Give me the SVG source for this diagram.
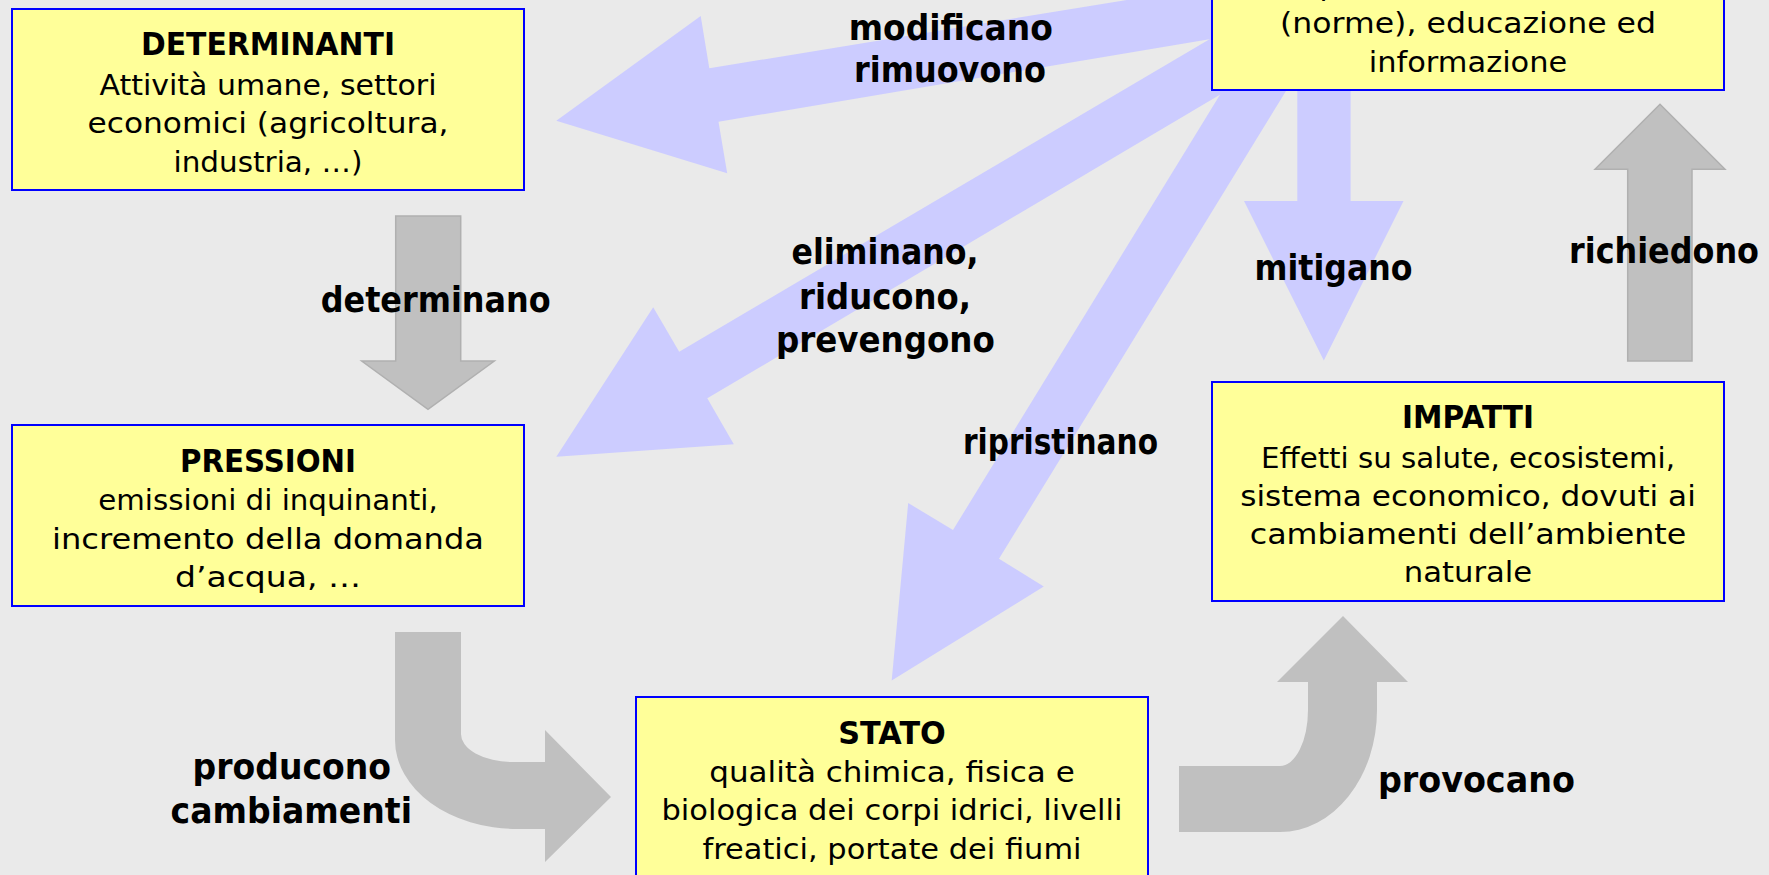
<svg xmlns="http://www.w3.org/2000/svg" width="1769" height="875" viewBox="0 0 1769 875">
<style>
.bg{fill:#EAEAEA}
.box{fill:#FFFF99;stroke:#0000FF;stroke-width:2}
.blue{fill:#CCCCFF}
.gray{fill:#C0C0C0}
.grayo{fill:#C0C0C0;stroke:#B0B0B0;stroke-width:1.5}
.t{font-family:"DejaVu Sans","Liberation Sans",sans-serif;font-weight:bold;font-size:32px;fill:#000;text-anchor:middle}
.b{font-family:"DejaVu Sans","Liberation Sans",sans-serif;font-size:28px;fill:#000;text-anchor:middle}
.l{font-family:"DejaVu Sans","Liberation Sans",sans-serif;font-weight:bold;font-size:35px;fill:#000;text-anchor:middle}
</style>
<rect class="bg" x="0" y="0" width="1769" height="875"/>
<g id="connectors">
  <polygon id="arrow-modificano" class="blue" points="556.3,120.7 700.7,16 709.3,68.3 1260,-21.8 1260,30.7 718.5,121.7 727.2,173.3"/>
  <polygon id="arrow-eliminano" class="blue" points="556.3,456.7 653.2,307.3 679.2,351.7 1260,9.6 1260,71.1 707.3,398.3 733.8,444.3"/>
  <polygon id="arrow-ripristinano" class="blue" points="891.7,680.5 908.2,503 953,530 1241.3,60 1305,60 999,558.8 1043.8,586.6"/>
  <polygon id="arrow-mitigano" class="blue" points="1297.3,60 1350.6,60 1350.6,201 1403.5,201 1323.8,360.5 1244,201 1297.3,201"/>
  <polygon id="arrow-determinano" class="grayo" points="395.7,216 460.7,216 460.7,361 494.3,361 428,409.3 361.7,361 395.7,361"/>
  <polygon id="arrow-richiedono" class="grayo" points="1627.7,361 1692,361 1692,169.3 1725,169.3 1660,104.3 1595,169.3 1627.7,169.3"/>
  <path id="arrow-producono" class="gray" d="M395,632 H461 V733 A52,28 0 0 0 513,762 H545 V730 L611,797 L545,862 V829 H517 A122,89 0 0 1 395,740 Z"/>
  <path id="arrow-provocano" class="gray" d="M1179,766 H1280 A28,56 0 0 0 1308,710 V682 H1277 L1343,616 L1408,682 H1377 V710 A97,122 0 0 1 1280,832 H1179 Z"/>
</g>
<g id="node-risposte">
  <rect class="box" x="1212" y="-120" width="512" height="210"/>
  <text class="b" x="1468" y="-5" textLength="356" lengthAdjust="spacingAndGlyphs">(opere) e non strutturali</text>
  <text class="b" x="1468" y="33.3" textLength="376" lengthAdjust="spacingAndGlyphs">(norme), educazione ed</text>
  <text class="b" x="1468" y="71.7" textLength="198.5" lengthAdjust="spacingAndGlyphs">informazione</text>
</g>
<g id="node-determinanti">
  <rect class="box" x="12" y="9" width="512" height="181"/>
  <text class="t" x="268" y="55" textLength="254" lengthAdjust="spacingAndGlyphs">DETERMINANTI</text>
  <text class="b" x="268" y="95" textLength="337" lengthAdjust="spacingAndGlyphs">Attività umane, settori</text>
  <text class="b" x="268" y="133" textLength="361" lengthAdjust="spacingAndGlyphs">economici (agricoltura,</text>
  <text class="b" x="268" y="172" textLength="189" lengthAdjust="spacingAndGlyphs">industria, …)</text>
</g>
<g id="node-pressioni">
  <rect class="box" x="12" y="425" width="512" height="181"/>
  <text class="t" x="268" y="472" textLength="176" lengthAdjust="spacingAndGlyphs">PRESSIONI</text>
  <text class="b" x="268" y="510" textLength="339.5" lengthAdjust="spacingAndGlyphs">emissioni di inquinanti,</text>
  <text class="b" x="268" y="548.5" textLength="432" lengthAdjust="spacingAndGlyphs">incremento della domanda</text>
  <text class="b" x="268" y="587" textLength="186" lengthAdjust="spacingAndGlyphs">d’acqua, …</text>
</g>
<g id="node-stato">
  <rect class="box" x="636" y="697" width="512" height="200"/>
  <text class="t" x="892" y="743.5" textLength="107.5" lengthAdjust="spacingAndGlyphs">STATO</text>
  <text class="b" x="892" y="782" textLength="365.5" lengthAdjust="spacingAndGlyphs">qualità chimica, fisica e</text>
  <text class="b" x="892" y="820" textLength="461" lengthAdjust="spacingAndGlyphs">biologica dei corpi idrici, livelli</text>
  <text class="b" x="892" y="858.5" textLength="379" lengthAdjust="spacingAndGlyphs">freatici, portate dei fiumi</text>
</g>
<g id="node-impatti">
  <rect class="box" x="1212" y="382" width="512" height="219"/>
  <text class="t" x="1468" y="428" textLength="132" lengthAdjust="spacingAndGlyphs">IMPATTI</text>
  <text class="b" x="1468" y="467.5" textLength="414" lengthAdjust="spacingAndGlyphs">Effetti su salute, ecosistemi,</text>
  <text class="b" x="1468" y="506" textLength="455.6" lengthAdjust="spacingAndGlyphs">sistema economico, dovuti ai</text>
  <text class="b" x="1468" y="544" textLength="436.6" lengthAdjust="spacingAndGlyphs">cambiamenti dell’ambiente</text>
  <text class="b" x="1468" y="582" textLength="128.5" lengthAdjust="spacingAndGlyphs">naturale</text>
</g>
<g id="connector-labels">
  <text class="l" x="950.8" y="39.5" textLength="204" lengthAdjust="spacingAndGlyphs">modificano</text>
  <text class="l" x="950" y="82" textLength="192" lengthAdjust="spacingAndGlyphs">rimuovono</text>
  <text class="l" x="885" y="263.5" textLength="187" lengthAdjust="spacingAndGlyphs">eliminano,</text>
  <text class="l" x="885" y="308.5" textLength="172" lengthAdjust="spacingAndGlyphs">riducono,</text>
  <text class="l" x="885.4" y="352" textLength="219" lengthAdjust="spacingAndGlyphs">prevengono</text>
  <text class="l" x="1060.5" y="454" textLength="195" lengthAdjust="spacingAndGlyphs">ripristinano</text>
  <text class="l" x="1333.5" y="279.5" textLength="158" lengthAdjust="spacingAndGlyphs">mitigano</text>
  <text class="l" x="1664" y="263" font-size="32" textLength="190" lengthAdjust="spacingAndGlyphs">richiedono</text>
  <text class="l" x="435.7" y="312" textLength="230" lengthAdjust="spacingAndGlyphs">determinano</text>
  <text class="l" x="291.8" y="779" textLength="198.4" lengthAdjust="spacingAndGlyphs">producono</text>
  <text class="l" x="291.3" y="823" textLength="241.4" lengthAdjust="spacingAndGlyphs">cambiamenti</text>
  <text class="l" x="1476.4" y="792" textLength="197" lengthAdjust="spacingAndGlyphs">provocano</text>
</g>
</svg>
